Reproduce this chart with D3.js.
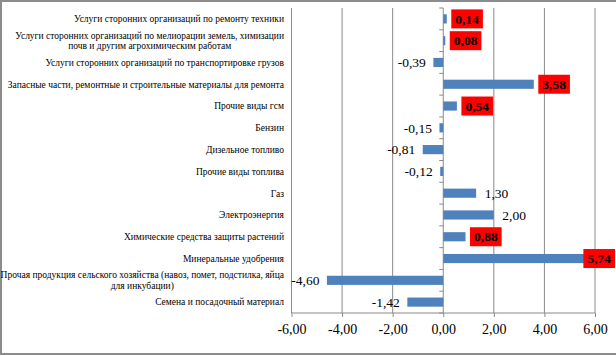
<!DOCTYPE html>
<html><head><meta charset="utf-8">
<script src="https://cdn.jsdelivr.net/npm/d3@7"></script>
<style>html,body{margin:0;padding:0;background:#fff;}svg{display:block;}</style>
</head><body>
<svg id="chart" width="616" height="356"></svg>
<script>
const categories = [
  ["Услуги сторонних  организаций  по ремонту техники"],
  ["Услуги сторонних  организаций  по мелиорации земель, химизации", "почв и другим  агрохимическим работам"],
  ["Услуги сторонних  организаций  по транспортировке грузов"],
  ["Запасные части, ремонтные и строительные материалы для ремонта"],
  ["Прочие виды гсм"],
  ["Бензин"],
  ["Дизельное топливо"],
  ["Прочие виды топлива"],
  ["Газ"],
  ["Электроэнергия"],
  ["Химические средства защиты растений"],
  ["Минеральные удобрения"],
  ["Прочая продукция  сельского хозяйства (навоз, помет, подстилка, яйца", "для  инкубации)"],
  ["Семена и посадочный материал"]
];
const values = [0.14, 0.08, -0.39, 3.58, 0.54, -0.15, -0.81, -0.12, 1.30, 2.00, 0.88, 5.74, -4.60, -1.42];
const highlighted = [true, true, false, true, true, false, false, false, false, false, true, true, false, false];
const xTicks = [-6, -4, -2, 0, 2, 4, 6];

const fmt = v => v.toFixed(2).replace(".", ",");
const svg = d3.select("#chart");
const FONT = '"Liberation Serif","Times New Roman",serif';

svg.append("rect").attr("x",1).attr("y",1).attr("width",624).attr("height",353)
  .attr("fill","#fff").attr("stroke","#8c8c8c").attr("stroke-width",2);

const plotTop = 8, plotBottom = 313;
const x = d3.scaleLinear().domain([-6, 6]).range([291.5, 595]);
const y = d3.scaleBand().domain(d3.range(categories.length)).range([plotTop, plotBottom])
  .paddingInner(0.58).paddingOuter(0.29);
const step = y.step();

// vertical gridlines
svg.append("g").selectAll("line").data(xTicks).join("line")
  .attr("x1", d => x(d)).attr("x2", d => x(d))
  .attr("y1", plotTop).attr("y2", plotBottom)
  .attr("stroke", "#8a8a8a").attr("stroke-width", 1);

// bottom axis
const xAxis = d3.axisBottom(x).tickValues(xTicks).tickFormat(fmt).tickSize(4).tickPadding(7);
const gx = svg.append("g").attr("transform", `translate(0,${plotBottom})`).call(xAxis);
gx.select(".domain").attr("stroke", "#8a8a8a").attr("d", `M${x(-6)},0H${x(6)}`);
gx.selectAll(".tick line").attr("stroke", "#8a8a8a");
gx.selectAll(".tick text").style("font-family", FONT).style("font-size", "14px").attr("fill", "#000");

// zero axis category ticks
const zx = x(0);
svg.append("g").selectAll("line").data(d3.range(categories.length + 1)).join("line")
  .attr("x1", zx - 4).attr("x2", zx)
  .attr("y1", i => plotTop + i * step).attr("y2", i => plotTop + i * step)
  .attr("stroke", "#8a8a8a");

// bars
svg.append("g").selectAll("rect").data(values).join("rect")
  .attr("x", d => x(Math.min(0, d)))
  .attr("width", d => Math.abs(x(d) - x(0)))
  .attr("y", (d, i) => y(i))
  .attr("height", y.bandwidth())
  .attr("fill", "#4f81bd");

// category labels
const labelRight = 284;
const lg = svg.append("g");
categories.forEach((lines, i) => {
  const cy = y(i) + y.bandwidth() / 2;
  const lh = 10.5;
  const g = lg.append("g");
  const texts = lines.map((t, k) => g.append("text")
    .attr("y", cy + (k - (lines.length - 1) / 2) * lh)
    .attr("dy", "0.35em")
    .style("font-family", FONT).style("font-size", "9.5px").attr("fill", "#000")
    .text(t));
  const widths = texts.map(t => t.node().getComputedTextLength());
  const maxW = d3.max(widths);
  const center = labelRight - maxW / 2;
  texts.forEach(t => t.attr("x", center).attr("text-anchor", "middle"));
});

// data labels
const dl = svg.append("g");
values.forEach((v, i) => {
  const cy = y(i) + y.bandwidth() / 2;
  const txt = dl.append("text")
    .attr("y", cy).attr("dy", "0.35em")
    .style("font-family", FONT).style("font-size", "13.5px")
    .attr("font-weight", highlighted[i] ? "bold" : "normal")
    .attr("fill", "#000").text(fmt(v));
  const w = txt.node().getComputedTextLength();
  let tx;
  if (v >= 0) { tx = x(v) + 8.5; } else { tx = x(v) - 7.5 - w; }
  if (highlighted[i]) {
    let bx = tx - 4, bw = w + 8;
    if (bx + bw > 615) { bx = 615 - bw; tx = bx + 4; }
    dl.insert("rect", "text").attr("x", bx).attr("y", cy - 9.5)
      .attr("width", bw).attr("height", 19).attr("fill", "#ff0000");
    txt.raise();
  }
  txt.attr("x", tx);
});
</script>
</body></html>
